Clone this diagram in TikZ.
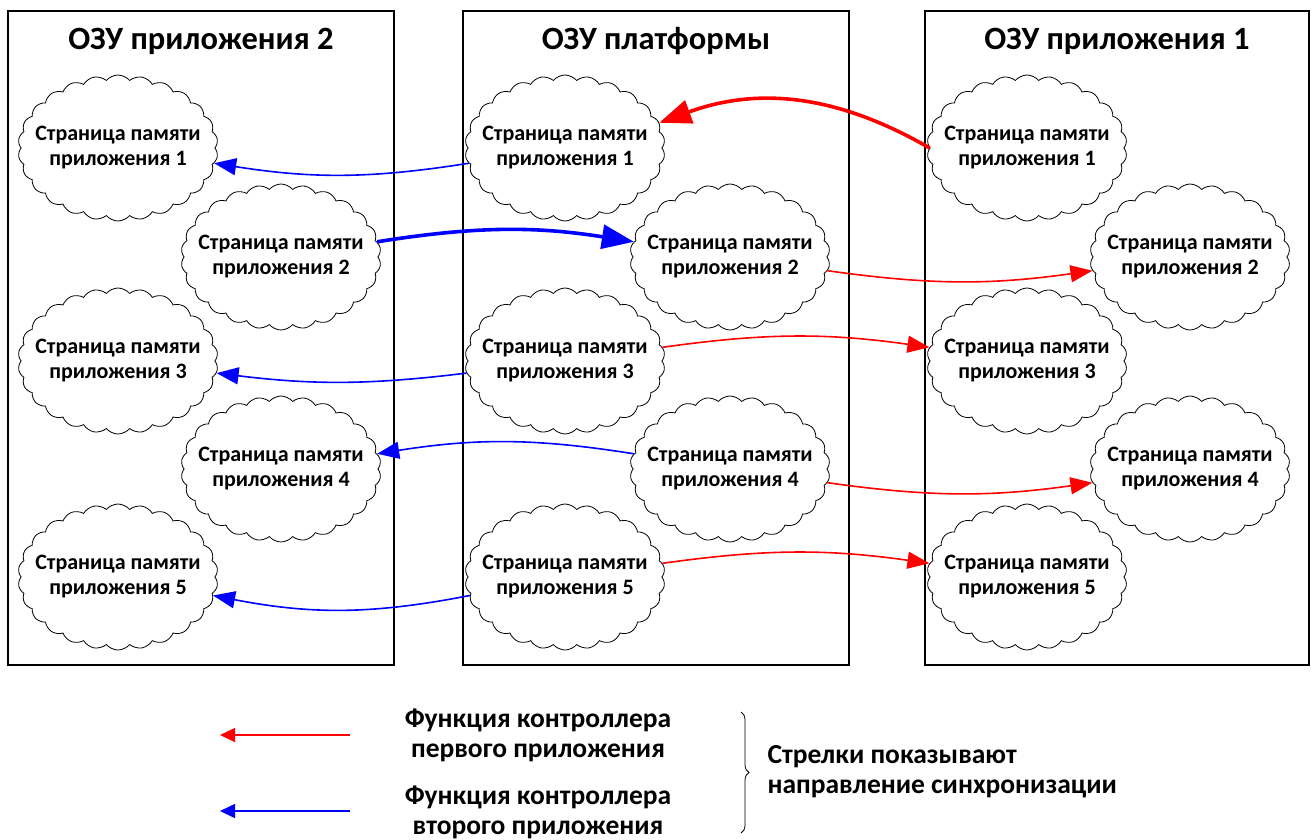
\documentclass[tikz,border=0pt]{standalone}
\usepackage{fontspec}
\setmainfont{Carlito}
\usetikzlibrary{shapes.symbols,arrows.meta,decorations.pathreplacing}

\definecolor{syncred}{RGB}{255,0,0}
\definecolor{syncblue}{RGB}{0,0,255}

\tikzset{
  ramframe/.style={draw, line width=1.6pt},
  ramtitle/.style={font=\fontsize{32.5}{38}\selectfont\bfseries},
  pagecloud/.style={draw, fill=white, shape=cloud, cloud puffs=26, cloud puff arc=100,
    cloud ignores aspect, minimum width=200pt, minimum height=146pt, inner xsep=-30pt, inner ysep=0pt,
    line width=0.8pt, align=center, font=\fontsize{22}{25}\selectfont\bfseries},
  thinsync/.style={line width=1.6pt, -{Triangle[length=22pt,width=17pt]}},
  thicksync/.style={line width=3.6pt, -{Triangle[length=32pt,width=24pt]}},
  legendtext/.style={align=center, font=\fontsize{27.5}{30}\selectfont\bfseries}
}

\begin{document}
\begin{tikzpicture}[x=1pt, y=-1pt]
    \useasboundingbox (0,0) rectangle (1315,839);

    % три области памяти
    \draw[ramframe] (8,11) rectangle (394,665);
    \draw[ramframe] (463,11) rectangle (849,665);
    \draw[ramframe] (925,11) rectangle (1309,665);

    \node[ramtitle] (t2) at (201,41) {ОЗУ приложения 2};
    \node[ramtitle] (tp) at (656,41) {ОЗУ платформы};
    \node[ramtitle] (t1) at (1117,41) {ОЗУ приложения 1};

    % страницы
    \foreach \i/\y/\xl/\xm/\xr in {1/148/118/565/1027, 2/257/281/730/1190, 3/361/118/565/1027,
                                   4/469/281/730/1190, 5/577/118/565/1027} {
        \node[pagecloud] (l\i) at (\xl,\y) {Страница памяти\\приложения \i};
        \node[pagecloud] (m\i) at (\xm,\y) {Страница памяти\\приложения \i};
        \node[pagecloud] (r\i) at (\xr,\y) {Страница памяти\\приложения \i};
    }

    % второе приложение
    \draw[thinsync, syncblue] (m1) to[bend left=9] (l1);
    \draw[thicksync, syncblue] (l2) to[bend left=9] (m2);
    \draw[thinsync, syncblue] (m3) to[bend left=7] (l3);
    \draw[thinsync, syncblue] (m4) to[bend right=9] (l4);
    \draw[thinsync, syncblue] (m5) to[bend left=11] (l5);

    % первое приложение
    \draw[thicksync, syncred] (r1.180) to[out=150, in=20] (m1.15);
    \draw[thinsync, syncred] (m2) to[bend right=8] (r2);
    \draw[thinsync, syncred] (m3) to[bend left=8] (r3);
    \draw[thinsync, syncred] (m4) to[bend right=8] (r4);
    \draw[thinsync, syncred] (m5) to[bend left=8] (r5);

    % легенда
    \coordinate (ra) at (350,735);
    \coordinate (rb) at (220,735);
    \coordinate (ba) at (350,811);
    \coordinate (bb) at (220,811);
    \draw[syncred, line width=1.6pt, -{Triangle[length=15pt,width=14pt]}] (ra) -- (rb);
    \draw[syncblue, line width=1.6pt, -{Triangle[length=15pt,width=14pt]}] (ba) -- (bb);

    \node[legendtext] (lf1) at (538,735) {Функция контроллера\\первого приложения};
    \node[legendtext] (lf2) at (538,812) {Функция контроллера\\второго приложения};

    \coordinate (bt) at (741,712);
    \coordinate (bd) at (741,833);
    \draw[line width=0.8pt, decorate, decoration={brace, amplitude=8pt}] (bt) -- (bd);

    \node[legendtext, align=left, anchor=west] (note) at (764,772) {Стрелки показывают\\направление синхронизации};
\end{tikzpicture}
\end{document}
